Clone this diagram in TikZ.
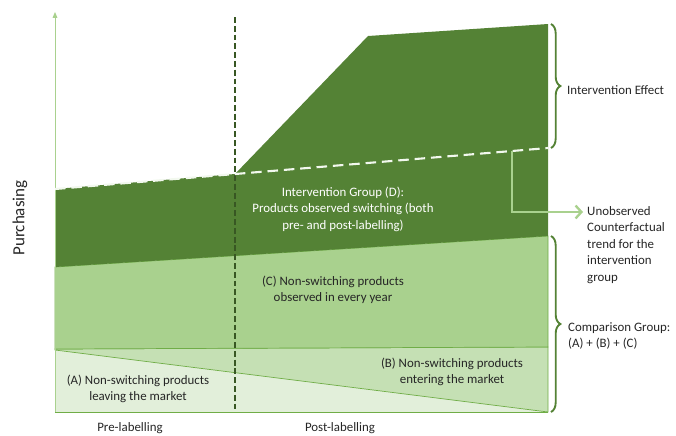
\documentclass[tikz,border=0pt]{standalone}
\usepackage{fontspec}
\setmainfont{Carlito}
\usepackage{tikz}
\usetikzlibrary{arrows.meta,decorations.pathreplacing}
\definecolor{darkgr}{HTML}{548235}
\definecolor{midgr}{HTML}{A9D18E}
\definecolor{palegr}{HTML}{C5E0B4}
\definecolor{lightgr}{HTML}{E2EFDA}
\definecolor{edgegr}{HTML}{70AD47}
\definecolor{linegr}{HTML}{385723}
\tikzset{
  lbl/.style={font=\fontsize{11}{14}\selectfont,text=black!85,align=center,inner sep=0pt},
  bracegr/.style={draw=darkgr,line width=1.6pt,decorate,decoration={brace,amplitude=8pt}},
}

\begin{document}
\begin{tikzpicture}[x=0.03cm,y=-0.03cm,>=Stealth]
  \useasboundingbox (0,0) rectangle (676,435);
  \coordinate (o) at (55,412);
  \coordinate (e) at (548,412);
  \coordinate (k) at (235,174);
  \fill[lightgr] (55,350) -- (e) -- (o) -- cycle;
  \fill[palegr,draw=edgegr,line width=0.6pt] (55,349) -- (548,347) -- (e) -- (55,350) -- cycle;
  \fill[midgr,draw=edgegr,line width=0.6pt] (55,267) -- (548,236) -- (548,347) -- (55,349) -- cycle;
  \fill[darkgr] (55,189) -- (k) -- (368,36) -- (548,24) -- (548,236) -- (55,267) -- cycle;
  \draw[midgr,line width=0.8pt,-{Triangle[length=5pt,width=4pt]}] (o) -- (55,12);
  \draw[edgegr,line width=0.8pt] (o) -- (e);
  \draw[linegr,line width=1.8pt,dash pattern=on 5pt off 2.5pt] (235,17) -- (235,412);
  \draw[white!85!midgr,line width=1.8pt,dash pattern=on 9pt off 5pt] (55,189) -- (k) -- (548,148);
  \coordinate (cf) at (512,151);
  \coordinate (cfend) at (583,212);
  \draw[midgr,line width=2pt,-{Straight Barb[length=5pt,width=11pt]}] (cf) |- (cfend);
  \draw[bracegr] (551,24) -- (551,148);
  \draw[bracegr] (551,236) -- (551,412);
  \node[lbl,text=white]  at (343,209) (grpD) {Intervention Group (D):\\Products observed switching (both\\pre- and post-labelling)};
  \node[lbl]  at (333,290) (grpC) {(C) Non-switching products\\observed in every year};
  \node[lbl]  at (452,372) (grpB) {(B) Non-switching products\\entering the market};
  \node[lbl]  at (138,389) (grpA) {(A) Non-switching products\\leaving the market};
  \node[lbl]  at (130,428) (pre) {Pre-labelling};
  \node[lbl]  at (340,428) (post) {Post-labelling};
  \node[lbl,rotate=90,font=\fontsize{14.5}{16}\selectfont]  at (20,218) (purch) {Purchasing};
  \node[lbl,anchor=west]  at (567,90) (effect) {Intervention Effect};
  \node[lbl,anchor=west,align=left]  at (568,336) (comp) {Comparison Group:\\(A) + (B) + (C)};
  \node[lbl,anchor=west,align=left]  at (587,245) (unobs) {Unobserved\\Counterfactual\\trend for the\\intervention\\group};
\end{tikzpicture}
\end{document}
